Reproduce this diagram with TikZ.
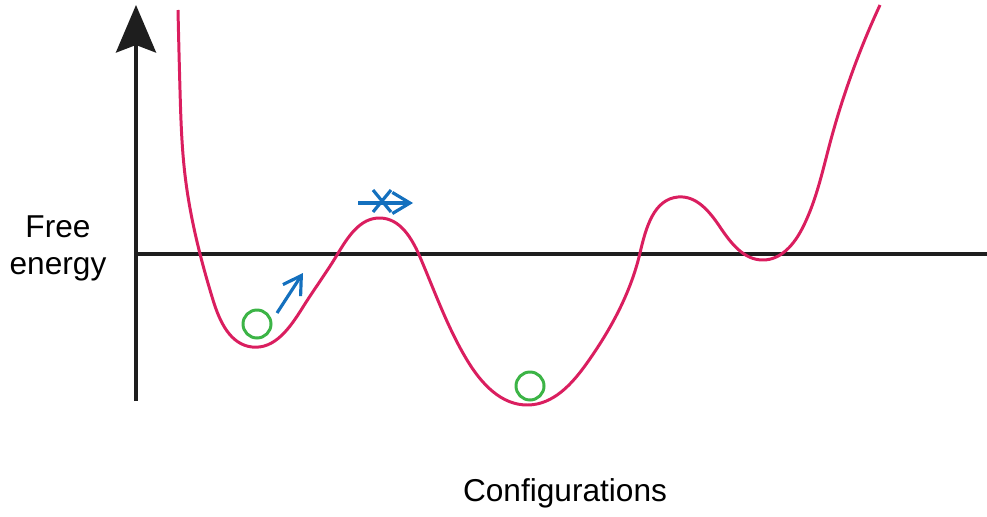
\documentclass[tikz,border=0pt]{standalone}
\usepackage{fontspec}
\setmainfont{Liberation Sans}
\usepackage{tikz}
\usetikzlibrary{arrows.meta, positioning, calc, hobby}
\definecolor{land-pink}{RGB}{218, 30, 95}
\definecolor{ball-green}{RGB}{60, 180, 70}
\definecolor{move-blue}{RGB}{20, 112, 190}
\definecolor{axis-black}{RGB}{30, 30, 30}

\begin{document}
\begin{tikzpicture}[x=0.02cm, y=-0.02cm,
        axis/.style={line width=2.3pt, color=axis-black},
        land/.style={line width=1.7pt, color=land-pink},
        ball/.style={circle, draw=ball-green, line width=1.7pt,
                     minimum size=0.56cm, inner sep=0pt},
        move/.style={-{Straight Barb[length=10pt, width=12pt]}, line width=1.8pt, color=move-blue},
        lbl/.style={font=\fontsize{18}{21}\selectfont, text=black, align=center}
      ]
        \useasboundingbox (0,0) rectangle (987,517);
        % axes
        \coordinate (origin) at (136,401);
        \coordinate (ytop) at (136,5);
        \coordinate (xleft) at (136,254);
        \coordinate (xright) at (987,254);
        \draw[axis, -{Stealth[length=0.95cm, width=0.8cm, inset=0.15cm]}] (origin) -- (ytop);
        \draw[axis] (xleft) -- (xright);
        \node[lbl] (ylab) at (58,248) {Free\\energy};
        \node[lbl] (xlab) at (565,493) {Configurations};
        % free energy landscape
        \draw[land, use Hobby shortcut]
          (178,10) .. (180,90) .. (185,175) .. (213,300) .. (252,347) .. (303,307)
          .. (337,255) .. (380,218) .. (420,257) .. (467,360) .. (528,405)
          .. (587,363) .. (640,253) .. (678,197) .. (720,227) .. (763,260)
          .. (803,227) .. (830,143) .. (880,5);
        % balls
        \node[ball] (b1) at (257,324) {};
        \node[ball] (b2) at (530,386) {};
        % moves
        \coordinate (m1a) at (277,313);
        \coordinate (m1b) at (303,273);
        \draw[move] (m1a) -- (m1b);
        \coordinate (m2a) at (358,203);
        \coordinate (m2b) at (413,203);
        \coordinate (xc) at (382,201);
        \draw[move] (m2a) -- (m2b);
        \draw[line width=1.8pt, color=move-blue]
          ($(xc)+(-9,-11)$) -- ($(xc)+(9,11)$)
          ($(xc)+(9,-11)$) -- ($(xc)+(-9,11)$);
      \end{tikzpicture}
\end{document}
